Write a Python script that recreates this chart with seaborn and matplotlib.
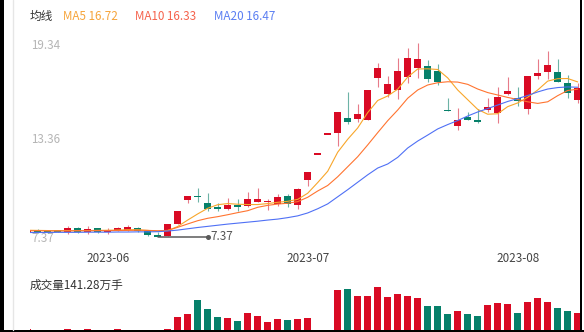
import numpy as np
import pandas as pd
import matplotlib
matplotlib.use("Agg")
import matplotlib.pyplot as plt
import seaborn as sns
from matplotlib.transforms import blended_transform_factory
from matplotlib.lines import Line2D
from matplotlib.patches import Rectangle

sns.set_theme(style="white")
plt.rcParams['font.family'] = ['Noto Sans CJK SC', 'DejaVu Sans']

# ---------------- data ----------------
dates = pd.bdate_range("2023-05-22", "2023-08-09")
dates = dates[~dates.isin(pd.to_datetime(["2023-06-22", "2023-06-23"]))]

open_ = [7.66, 7.74, 7.72, 7.77, 7.64, 7.89, 7.66, 7.89, 7.68, 7.74, 7.80, 7.93, 7.72, 7.45,
         7.41, 8.16, 9.64, 9.89, 9.44, 9.19, 9.10, 9.31, 9.27, 9.52, 9.50, 9.39, 9.87, 9.33,
         10.88, 12.49, 13.73, 13.81, 14.74, 14.64, 14.57, 17.17, 16.18, 16.45, 17.24, 17.83,
         17.93, 17.64, 15.21, 14.22, 14.78, 14.55, 15.19, 15.00, 16.18, 15.95, 15.27, 17.34,
         17.58, 17.54, 16.86, 15.83]
close = [7.78, 7.70, 7.68, 7.64, 7.89, 7.64, 7.83, 7.68, 7.78, 7.93, 7.97, 7.72, 7.46, 7.40,
         8.15, 8.98, 9.87, 9.81, 9.10, 9.12, 9.35, 9.25, 9.70, 9.69, 9.58, 9.85, 9.41, 10.32,
         11.35, 12.49, 13.73, 15.11, 14.45, 14.95, 16.45, 17.81, 16.82, 17.61, 18.41, 18.37,
         17.15, 16.94, 15.14, 14.59, 14.61, 14.49, 15.40, 16.02, 16.39, 15.75, 17.32, 17.50,
         17.99, 16.96, 16.24, 16.55]
high = [7.80, 7.83, 7.80, 7.78, 8.03, 7.99, 8.03, 7.93, 7.89, 7.97, 8.08, 7.99, 7.73, 7.68,
        8.15, 8.98, 9.87, 10.40, 10.09, 9.44, 9.75, 9.69, 10.16, 10.37, 9.69, 9.99, 9.99, 10.37,
        11.35, 12.49, 13.73, 15.11, 16.31, 15.56, 16.45, 18.10, 17.33, 18.45, 19.03, 19.34,
        18.31, 18.08, 15.94, 15.32, 15.11, 15.27, 15.94, 16.62, 17.25, 16.62, 17.32, 18.37,
        18.86, 18.37, 17.38, 16.86]
low = [7.64, 7.62, 7.60, 7.63, 7.54, 7.58, 7.54, 7.62, 7.54, 7.72, 7.74, 7.64, 7.44, 7.37,
       7.40, 8.16, 9.47, 9.52, 8.98, 8.98, 9.02, 8.98, 9.19, 9.50, 9.02, 9.27, 9.23, 9.08,
       10.51, 12.49, 13.73, 13.00, 14.36, 14.45, 14.57, 16.62, 16.03, 15.87, 16.86, 17.17,
       16.96, 16.76, 15.14, 13.97, 14.59, 14.43, 15.07, 14.39, 16.12, 15.46, 14.95, 17.11,
       17.11, 16.96, 15.94, 15.63]
ma5 = [7.77, 7.76, 7.75, 7.74, 7.75, 7.74, 7.75, 7.76, 7.77, 7.78, 7.80, 7.80, 7.76, 7.70,
       7.75, 8.00, 8.40, 8.78, 9.13, 9.35, 9.42, 9.38, 9.36, 9.36, 9.42, 9.50, 9.56, 9.68,
       10.06, 10.72, 11.42, 12.60, 13.40, 14.10, 15.05, 15.80, 16.08, 16.50, 17.25, 17.75,
       17.76, 17.72, 17.20, 16.45, 15.85, 15.25, 14.95, 14.98, 15.42, 15.65, 16.00, 16.45,
       17.00, 17.15, 17.16, 16.95]
ma10 = [7.74, 7.74, 7.73, 7.73, 7.73, 7.74, 7.74, 7.74, 7.75, 7.75, 7.76, 7.77, 7.76, 7.74,
        7.76, 7.95, 8.16, 8.36, 8.51, 8.61, 8.73, 8.86, 8.98, 9.19, 9.31, 9.39, 9.44, 9.54,
        9.81, 10.20, 10.54, 11.08, 11.70, 12.32, 13.05, 13.81, 14.55, 15.21, 15.94, 16.45,
        16.76, 16.90, 16.96, 16.94, 16.80, 16.51, 16.29, 16.14, 15.99, 15.86, 15.72, 15.62,
        15.72, 16.10, 16.42, 16.50]
ma20 = [7.63, 7.63, 7.63, 7.64, 7.64, 7.64, 7.65, 7.65, 7.65, 7.66, 7.66, 7.67, 7.67, 7.68,
        7.72, 7.78, 7.86, 7.94, 8.01, 8.08, 8.15, 8.21, 8.27, 8.33, 8.40, 8.46, 8.55, 8.66,
        8.84, 9.10, 9.40, 9.84, 10.28, 10.74, 11.20, 11.62, 11.87, 12.28, 12.86, 13.29,
        13.66, 14.04, 14.31, 14.56, 14.84, 15.09, 15.30, 15.52, 15.74, 15.92, 16.11, 16.33,
        16.51, 16.60, 16.64, 16.62]
volume = [103, 95, 92, 96, 104, 102, 105, 102, 102, 103, 102, 102, 102, 98,
          105, 133, 140, 173, 151, 133, 131, 124, 142, 135, 121, 128, 125, 127,
          130, 12, 18, 197, 198, 181, 181, 204, 179, 187, 183, 177,
          159, 159, 140, 147, 140, 135, 160, 166, 163, 143, 169, 177, 169, 154, 146, 141.28]

month_labels = ["2023-06", "2023-07", "2023-08"]
ma_names = ["MA5", "MA10", "MA20"]
ma_last = [16.72, 16.33, 16.47]
price_labels = [19.34, 13.36, 7.37]
vol_title = "成交量141.28万手"
legend_title = "均线"

# ---------------- style ----------------
W, H = 584, 332
RED, GREEN = "#d90a24", "#06806a"
RED_W, GREEN_W = "#e77b89", "#6db3a6"
MA_LINE = ["#f8a62a", "#ff7430", "#4f70f5"]
MA_TXT = ["#f6a43a", "#f5624c", "#5b7ef2"]
FS = 8.4

df = pd.DataFrame({"open": open_, "close": close, "high": high, "low": low,
                   "ma5": ma5, "ma10": ma10, "ma20": ma20, "vol": volume})
df["x"] = np.arange(len(df))
df["up"] = df["close"] >= df["open"]

fig = plt.figure(figsize=(W / 100, H / 100), dpi=100)
fig.patch.set_facecolor("white")


def fx(px):
    return px / W


def fy(py):
    return 1 - py / H


x_left_px, x_right_px = 30, 580
k0_px, step_px = 27.7, 10.0
xlim = ((x_left_px - k0_px) / step_px, (x_right_px - k0_px) / step_px)

p_top, p_bot = 43.3, 236.7
ax = fig.add_axes([fx(x_left_px), fy(p_bot), fx(x_right_px - x_left_px), (p_bot - p_top) / H])
v_top, v_bot = 286.7, 330
axv = fig.add_axes([fx(x_left_px), fy(v_bot), fx(x_right_px - x_left_px), (v_bot - v_top) / H])

for a in (ax, axv):
    a.set_axis_off()
    a.set_xlim(*xlim)

ymin, ymax = min(low), max(high)
ax.set_ylim(ymin, ymax)

# candles
wick_c = np.where(df["up"], RED_W, GREEN_W)
body_c = np.where(df["up"], RED, GREEN)
ax.vlines(df["x"], df["low"], df["high"], colors=wick_c, lw=0.8, zorder=2)
bot = np.minimum(df["open"], df["close"]).to_numpy()
hgt = np.abs(df["close"] - df["open"]).to_numpy()
minh = 0.09
mid = bot + hgt / 2
small = hgt < minh
bot = np.where(small, mid - minh / 2, bot)
hgt = np.where(small, minh, hgt)
ax.bar(df["x"], hgt, bottom=bot, width=0.7, color=body_c, lw=0, zorder=3)

# moving averages
for col, c in zip(["ma5", "ma10", "ma20"], MA_LINE):
    sns.lineplot(data=df, x="x", y=col, ax=ax, color=c, lw=0.8, zorder=4, legend=False)
ax.set_axis_off()

# min marker
imin = int(np.argmin(low))
ax.plot([imin, imin + 5.03], [ymin, ymin], color="#5a5a5a", lw=1.1, zorder=5, clip_on=False)
ax.plot([imin + 5.03], [ymin], marker="o", ms=2.6, color="#5a5a5a", zorder=5, clip_on=False)
ax.text(imin + 5.3, ymin, f"{ymin:.2f}", ha="left", va="center", fontsize=FS,
        color="#555555", clip_on=False, zorder=6)

# price labels
tr = blended_transform_factory(ax.transAxes, ax.transData)
offs = [-2.4, 0.3, -2.2]
for v, o in zip(price_labels, offs):
    ax.annotate(f"{v:.2f}", xy=(0.0, v), xycoords=tr, xytext=(1, o), textcoords="offset pixels",
                ha="left", va="center", fontsize=FS, color="#b5b5b5", zorder=1)

# month labels
tb = blended_transform_factory(ax.transData, ax.transAxes)
labels_dt = pd.to_datetime(month_labels)
for lab, d in zip(month_labels, labels_dt):
    pos = int(np.argmax((dates.year == d.year) & (dates.month == d.month)))
    ax.text(pos, -(258 - p_bot) / (p_bot - p_top), lab, transform=tb, ha="center", va="center",
            fontsize=FS, color="#444444", clip_on=False)

# volume
vcol = np.where(df["up"], RED, GREEN)
axv.bar(df["x"], df["vol"], width=0.7, color=vcol, lw=0)
axv.set_ylim(101.7, max(volume))
axv.set_axis_off()

# texts
fig.text(fx(30), fy(16), legend_title, ha="left", va="center", fontsize=FS, color="#333333")
xs = [63.3, 135, 214.3]
for name, val, c, xp in zip(ma_names, ma_last, MA_TXT, xs):
    fig.text(fx(xp), fy(16), f"{name} {val:.2f}", ha="left", va="center", fontsize=FS, color=c)
fig.text(fx(30), fy(285), vol_title, ha="left", va="center", fontsize=FS, color="#333333")

# frame details
fig.add_artist(Line2D([fx(13.3), fx(13.3)], [fy(330), 1], color="#e6e6e6", lw=1.0))
fig.add_artist(Rectangle((0, 0), fx(3.5), 1, color="black", lw=0))
fig.add_artist(Rectangle((fx(579.5), 0), fx(2), 1, color="black", lw=0))
fig.add_artist(Rectangle((0, 0), 1, 2 / H, color="black", lw=0))

fig.savefig("out.png", dpi=100, facecolor="white")
